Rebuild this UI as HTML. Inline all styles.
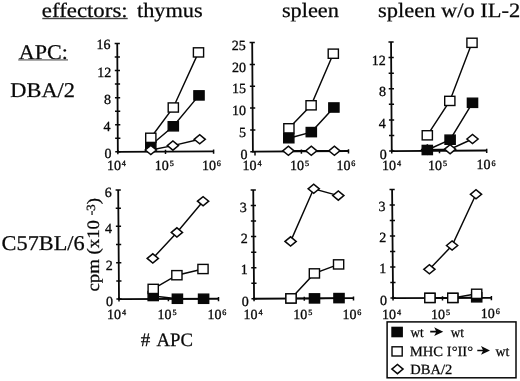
<!DOCTYPE html>
<html><head><meta charset="utf-8"><style>
html,body{margin:0;padding:0;background:#fff;}
body{width:520px;height:381px;overflow:hidden;}
svg{display:block;will-change:transform;}
text{font-family:"Liberation Serif", serif;fill:#080808;stroke:#080808;stroke-width:0.25px;text-rendering:geometricPrecision;}
text.s{stroke-width:0.3px;}
text.l{stroke-width:0.25px;}
</style></head><body>
<svg width="520" height="381" viewBox="0 0 520 381">
<rect width="520" height="381" fill="#fff"/>
<path d="M117.25,43.5 L117.85,151.8 L213.6,151.4" fill="none" stroke="#080808" stroke-width="1.8" stroke-linejoin="miter"/>
<path d="M115.25,151.8h5.2M115.17,138.26h5.2M115.1,124.73h5.2M115.03,111.19h5.2M114.95,97.65h5.2M114.88,84.11h5.2M114.8,70.58h5.2M114.73,57.04h5.2M114.65,43.5h5.2M117.85,150v4.2M165.5,149.8v4.2M213.6,149.6v4.2" fill="none" stroke="#080808" stroke-width="1.5"/>
<text class="s" x="104.5" y="158.32" font-size="14">0</text>
<text class="s" x="103.6" y="130.8" font-size="14">4</text>
<text class="s" x="104.1" y="103.73" font-size="14">8</text>
<text class="s" x="97.35" y="76.8" font-size="14">12</text>
<text class="s" x="96.55" y="49.48" font-size="14">16</text>
<text class="s" x="106.9" y="170.12" font-size="14">10<tspan font-size="8.2" dx="0.9" dy="-3.9">4</tspan></text>
<text class="s" x="154.8" y="169.82" font-size="14">10<tspan font-size="8.2" dx="0.9" dy="-3.9">5</tspan></text>
<text class="s" x="201.9" y="169.72" font-size="14">10<tspan font-size="8.2" dx="0.9" dy="-3.9">6</tspan></text>
<polyline points="150.8,145.3 173.3,126.3 199,95.4" fill="none" stroke="#080808" stroke-width="1.45"/>
<polyline points="150.8,137.8 173.3,107.5 198.5,52.4" fill="none" stroke="#080808" stroke-width="1.45"/>
<polyline points="150.8,150 172.9,145.6 199.7,139.3" fill="none" stroke="#080808" stroke-width="1.45"/>
<rect x="145.7" y="140.7" width="10.2" height="9.2" fill="#080808" stroke="#080808" stroke-width="1.4"/>
<rect x="168.2" y="121.7" width="10.2" height="9.2" fill="#080808" stroke="#080808" stroke-width="1.4"/>
<rect x="193.9" y="90.8" width="10.2" height="9.2" fill="#080808" stroke="#080808" stroke-width="1.4"/>
<rect x="145.7" y="133.2" width="10.2" height="9.2" fill="#fff" stroke="#080808" stroke-width="1.4"/>
<rect x="168.2" y="102.9" width="10.2" height="9.2" fill="#fff" stroke="#080808" stroke-width="1.4"/>
<rect x="193.4" y="47.8" width="10.2" height="9.2" fill="#fff" stroke="#080808" stroke-width="1.4"/>
<polygon points="145.2,150 150.8,145.4 156.4,150 150.8,154.6" fill="#fff" stroke="#080808" stroke-width="1.5" stroke-linejoin="miter"/>
<polygon points="167.3,145.6 172.9,141 178.5,145.6 172.9,150.2" fill="#fff" stroke="#080808" stroke-width="1.5" stroke-linejoin="miter"/>
<polygon points="194.1,139.3 199.7,134.7 205.3,139.3 199.7,143.9" fill="#fff" stroke="#080808" stroke-width="1.5" stroke-linejoin="miter"/>
<path d="M252.2,42.6 L252.9,151.7 L348.5,151" fill="none" stroke="#080808" stroke-width="1.8" stroke-linejoin="miter"/>
<path d="M250.3,151.7h5.2M250.16,129.88h5.2M250.02,108.06h5.2M249.88,86.24h5.2M249.74,64.42h5.2M249.6,42.6h5.2M255,151.18v4.3M301.4,149.54v4.2M348.5,149.2v4.2" fill="none" stroke="#080808" stroke-width="1.5"/>
<text class="s" x="240.4" y="158.72" font-size="14">0</text>
<text class="s" x="239.1" y="136.88" font-size="14">5</text>
<text class="s" x="232.1" y="115.18" font-size="14">10</text>
<text class="s" x="232.1" y="93.24" font-size="14">15</text>
<text class="s" x="232.1" y="71.54" font-size="14">20</text>
<text class="s" x="231.8" y="49.77" font-size="14">25</text>
<text class="s" x="242.6" y="170.03" font-size="14">10<tspan font-size="8.2" dx="0.9" dy="-3.9">4</tspan></text>
<text class="s" x="290.1" y="169.72" font-size="14">10<tspan font-size="8.2" dx="0.9" dy="-3.9">5</tspan></text>
<text class="s" x="336.4" y="169.72" font-size="14">10<tspan font-size="8.2" dx="0.9" dy="-3.9">6</tspan></text>
<polyline points="288.4,150.8 311.3,150.8 334.4,150.8" fill="none" stroke="#080808" stroke-width="1.45"/>
<polyline points="288.8,138.2 311.3,132.1 333.9,107.5" fill="none" stroke="#080808" stroke-width="1.45"/>
<polyline points="288.9,128.3 311.1,105.3 333.3,53.7" fill="none" stroke="#080808" stroke-width="1.45"/>
<polygon points="282.8,150.8 288.4,146.2 294,150.8 288.4,155.4" fill="#fff" stroke="#080808" stroke-width="1.5" stroke-linejoin="miter"/>
<polygon points="305.7,150.8 311.3,146.2 316.9,150.8 311.3,155.4" fill="#fff" stroke="#080808" stroke-width="1.5" stroke-linejoin="miter"/>
<polygon points="328.8,150.8 334.4,146.2 340,150.8 334.4,155.4" fill="#fff" stroke="#080808" stroke-width="1.5" stroke-linejoin="miter"/>
<rect x="283.7" y="133.6" width="10.2" height="9.2" fill="#080808" stroke="#080808" stroke-width="1.4"/>
<rect x="306.2" y="127.5" width="10.2" height="9.2" fill="#080808" stroke="#080808" stroke-width="1.4"/>
<rect x="328.8" y="102.9" width="10.2" height="9.2" fill="#080808" stroke="#080808" stroke-width="1.4"/>
<rect x="283.8" y="123.7" width="10.2" height="9.2" fill="#fff" stroke="#080808" stroke-width="1.4"/>
<rect x="306" y="100.7" width="10.2" height="9.2" fill="#fff" stroke="#080808" stroke-width="1.4"/>
<rect x="328.2" y="49.1" width="10.2" height="9.2" fill="#fff" stroke="#080808" stroke-width="1.4"/>
<path d="M391.05,42 L391.75,151.1 L486.7,150.5" fill="none" stroke="#080808" stroke-width="1.8" stroke-linejoin="miter"/>
<path d="M389.15,151.1h5.2M389.05,135.51h5.2M388.95,119.93h5.2M388.85,104.34h5.2M388.75,88.76h5.2M388.65,73.17h5.2M388.55,57.59h5.2M388.45,42h5.2M391.75,149.3v4.2M439.5,149v4.2M486.7,148.7v4.2" fill="none" stroke="#080808" stroke-width="1.5"/>
<text class="s" x="379.7" y="158.93" font-size="14">0</text>
<text class="s" x="378.8" y="127.97" font-size="14">4</text>
<text class="s" x="379.1" y="96.18" font-size="14">8</text>
<text class="s" x="371.75" y="65.15" font-size="14">12</text>
<text class="s" x="382" y="169.53" font-size="14">10<tspan font-size="8.2" dx="0.9" dy="-3.9">4</tspan></text>
<text class="s" x="428.1" y="169.62" font-size="14">10<tspan font-size="8.2" dx="0.9" dy="-3.9">5</tspan></text>
<text class="s" x="476.5" y="169.43" font-size="14">10<tspan font-size="8.2" dx="0.9" dy="-3.9">6</tspan></text>
<polyline points="427.3,149.6 450.1,149.2 472.5,139" fill="none" stroke="#080808" stroke-width="1.45"/>
<polyline points="427.3,150 450.1,139.7 472.5,102.8" fill="none" stroke="#080808" stroke-width="1.45"/>
<polyline points="427.3,135.3 449.8,100.9 472,42.8" fill="none" stroke="#080808" stroke-width="1.45"/>
<polygon points="421.7,149.6 427.3,145 432.9,149.6 427.3,154.2" fill="#fff" stroke="#080808" stroke-width="1.5" stroke-linejoin="miter"/>
<polygon points="444.5,149.2 450.1,144.6 455.7,149.2 450.1,153.8" fill="#fff" stroke="#080808" stroke-width="1.5" stroke-linejoin="miter"/>
<polygon points="466.9,139 472.5,134.4 478.1,139 472.5,143.6" fill="#fff" stroke="#080808" stroke-width="1.5" stroke-linejoin="miter"/>
<rect x="422.2" y="145.4" width="10.2" height="9.2" fill="#080808" stroke="#080808" stroke-width="1.4"/>
<rect x="445" y="135.1" width="10.2" height="9.2" fill="#080808" stroke="#080808" stroke-width="1.4"/>
<rect x="467.4" y="98.2" width="10.2" height="9.2" fill="#080808" stroke="#080808" stroke-width="1.4"/>
<rect x="422.2" y="130.7" width="10.2" height="9.2" fill="#fff" stroke="#080808" stroke-width="1.4"/>
<rect x="444.7" y="96.3" width="10.2" height="9.2" fill="#fff" stroke="#080808" stroke-width="1.4"/>
<rect x="466.9" y="38.2" width="10.2" height="9.2" fill="#fff" stroke="#080808" stroke-width="1.4"/>
<path d="M118.2,190 L119,299.1 L218.5,298.75" fill="none" stroke="#080808" stroke-width="1.8" stroke-linejoin="miter"/>
<path d="M116.4,299.1h5.2M116.27,280.92h5.2M116.13,262.73h5.2M116,244.55h5.2M115.87,226.37h5.2M115.73,208.18h5.2M115.6,190h5.2M119,297.3v4.2M168.4,297.13v4.2M218.5,296.95v4.2" fill="none" stroke="#080808" stroke-width="1.5"/>
<text class="s" x="106.1" y="305.82" font-size="14">0</text>
<text class="s" x="105.75" y="269.95" font-size="14">2</text>
<text class="s" x="104.9" y="233.43" font-size="14">4</text>
<text class="s" x="104.65" y="197.07" font-size="14">6</text>
<text class="s" x="107.1" y="319.02" font-size="14">10<tspan font-size="8.2" dx="0.9" dy="-3.9">4</tspan></text>
<text class="s" x="157.6" y="318.88" font-size="14">10<tspan font-size="8.2" dx="0.9" dy="-3.9">5</tspan></text>
<text class="s" x="207.4" y="318.88" font-size="14">10<tspan font-size="8.2" dx="0.9" dy="-3.9">6</tspan></text>
<polyline points="153.2,296 177.4,298.75 203.6,298.75" fill="none" stroke="#080808" stroke-width="1.45"/>
<polyline points="153.2,288.9 176.9,275.2 203,269" fill="none" stroke="#080808" stroke-width="1.45"/>
<polyline points="152.8,258.4 176.9,232.4 203.1,201.2" fill="none" stroke="#080808" stroke-width="1.45"/>
<rect x="148.1" y="291.4" width="10.2" height="9.2" fill="#080808" stroke="#080808" stroke-width="1.4"/>
<rect x="172.3" y="294.15" width="10.2" height="9.2" fill="#080808" stroke="#080808" stroke-width="1.4"/>
<rect x="198.5" y="294.15" width="10.2" height="9.2" fill="#080808" stroke="#080808" stroke-width="1.4"/>
<rect x="148.1" y="284.3" width="10.2" height="9.2" fill="#fff" stroke="#080808" stroke-width="1.4"/>
<rect x="171.8" y="270.6" width="10.2" height="9.2" fill="#fff" stroke="#080808" stroke-width="1.4"/>
<rect x="197.9" y="264.4" width="10.2" height="9.2" fill="#fff" stroke="#080808" stroke-width="1.4"/>
<polygon points="147.2,258.4 152.8,253.8 158.4,258.4 152.8,263" fill="#fff" stroke="#080808" stroke-width="1.5" stroke-linejoin="miter"/>
<polygon points="171.3,232.4 176.9,227.8 182.5,232.4 176.9,237" fill="#fff" stroke="#080808" stroke-width="1.5" stroke-linejoin="miter"/>
<polygon points="197.5,201.2 203.1,196.6 208.7,201.2 203.1,205.8" fill="#fff" stroke="#080808" stroke-width="1.5" stroke-linejoin="miter"/>
<path d="M253.25,190 L254.05,298.75 L353.5,298.2" fill="none" stroke="#080808" stroke-width="1.8" stroke-linejoin="miter"/>
<path d="M251.45,298.75h5.2M251.34,283.21h5.2M251.22,267.68h5.2M251.11,252.14h5.2M250.99,236.61h5.2M250.88,221.07h5.2M250.76,205.54h5.2M250.65,190h5.2M254.05,296.95v4.2M304.3,296.67v4.2M353.5,296.4v4.2" fill="none" stroke="#080808" stroke-width="1.5"/>
<text class="s" x="241.7" y="305.82" font-size="14">0</text>
<text class="s" x="240.75" y="274.4" font-size="14">1</text>
<text class="s" x="240.75" y="243.46" font-size="14">2</text>
<text class="s" x="239.8" y="211.78" font-size="14">3</text>
<text class="s" x="243.5" y="318.68" font-size="14">10<tspan font-size="8.2" dx="0.9" dy="-3.9">4</tspan></text>
<text class="s" x="293.3" y="318.88" font-size="14">10<tspan font-size="8.2" dx="0.9" dy="-3.9">5</tspan></text>
<text class="s" x="342.4" y="318.88" font-size="14">10<tspan font-size="8.2" dx="0.9" dy="-3.9">6</tspan></text>
<polyline points="291,298.4 314.5,298.4 339,298.1" fill="none" stroke="#080808" stroke-width="1.45"/>
<polyline points="291,298.4 314.4,273.4 338.6,264.4" fill="none" stroke="#080808" stroke-width="1.45"/>
<polyline points="290.6,241.4 313.7,188.8 338.3,195.6" fill="none" stroke="#080808" stroke-width="1.45"/>
<rect x="285.9" y="293.8" width="10.2" height="9.2" fill="#080808" stroke="#080808" stroke-width="1.4"/>
<rect x="309.4" y="293.8" width="10.2" height="9.2" fill="#080808" stroke="#080808" stroke-width="1.4"/>
<rect x="333.9" y="293.5" width="10.2" height="9.2" fill="#080808" stroke="#080808" stroke-width="1.4"/>
<rect x="285.9" y="293.8" width="10.2" height="9.2" fill="#fff" stroke="#080808" stroke-width="1.4"/>
<rect x="309.3" y="268.8" width="10.2" height="9.2" fill="#fff" stroke="#080808" stroke-width="1.4"/>
<rect x="333.5" y="259.8" width="10.2" height="9.2" fill="#fff" stroke="#080808" stroke-width="1.4"/>
<polygon points="285,241.4 290.6,236.8 296.2,241.4 290.6,246" fill="#fff" stroke="#080808" stroke-width="1.5" stroke-linejoin="miter"/>
<polygon points="308.1,188.8 313.7,184.2 319.3,188.8 313.7,193.4" fill="#fff" stroke="#080808" stroke-width="1.5" stroke-linejoin="miter"/>
<polygon points="332.7,195.6 338.3,191 343.9,195.6 338.3,200.2" fill="#fff" stroke="#080808" stroke-width="1.5" stroke-linejoin="miter"/>
<path d="M392.1,189.4 L393.05,298.1 L491.4,297.9" fill="none" stroke="#080808" stroke-width="1.8" stroke-linejoin="miter"/>
<path d="M390.45,298.1h5.2M390.31,282.57h5.2M390.18,267.04h5.2M390.04,251.51h5.2M389.91,235.99h5.2M389.77,220.46h5.2M389.64,204.93h5.2M389.5,189.4h5.2M393.05,296.3v4.2M442.5,296.2v4.2M491.4,296.1v4.2" fill="none" stroke="#080808" stroke-width="1.5"/>
<text class="s" x="380" y="304.52" font-size="14">0</text>
<text class="s" x="379.25" y="273.37" font-size="14">1</text>
<text class="s" x="379.25" y="242.44" font-size="14">2</text>
<text class="s" x="378.4" y="211.38" font-size="14">3</text>
<text class="s" x="382" y="318.73" font-size="14">10<tspan font-size="8.2" dx="0.9" dy="-3.9">4</tspan></text>
<text class="s" x="431.1" y="318.73" font-size="14">10<tspan font-size="8.2" dx="0.9" dy="-3.9">5</tspan></text>
<text class="s" x="480.8" y="318.23" font-size="14">10<tspan font-size="8.2" dx="0.9" dy="-3.9">6</tspan></text>
<polyline points="429.9,297.9 452.8,297.9 476.7,297.3" fill="none" stroke="#080808" stroke-width="1.45"/>
<polyline points="429.9,297.9 452.8,297.9 476.7,293.8" fill="none" stroke="#080808" stroke-width="1.45"/>
<polyline points="429.4,269.3 452.1,245.5 476,194.3" fill="none" stroke="#080808" stroke-width="1.45"/>
<rect x="424.8" y="293.3" width="10.2" height="9.2" fill="#080808" stroke="#080808" stroke-width="1.4"/>
<rect x="447.7" y="293.3" width="10.2" height="9.2" fill="#080808" stroke="#080808" stroke-width="1.4"/>
<rect x="471.6" y="292.7" width="10.2" height="9.2" fill="#080808" stroke="#080808" stroke-width="1.4"/>
<rect x="424.8" y="293.3" width="10.2" height="9.2" fill="#fff" stroke="#080808" stroke-width="1.4"/>
<rect x="447.7" y="293.3" width="10.2" height="9.2" fill="#fff" stroke="#080808" stroke-width="1.4"/>
<rect x="471.6" y="289.2" width="10.2" height="9.2" fill="#fff" stroke="#080808" stroke-width="1.4"/>
<polygon points="423.8,269.3 429.4,264.7 435,269.3 429.4,273.9" fill="#fff" stroke="#080808" stroke-width="1.5" stroke-linejoin="miter"/>
<polygon points="446.5,245.5 452.1,240.9 457.7,245.5 452.1,250.1" fill="#fff" stroke="#080808" stroke-width="1.5" stroke-linejoin="miter"/>
<polygon points="470.4,194.3 476,189.7 481.6,194.3 476,198.9" fill="#fff" stroke="#080808" stroke-width="1.5" stroke-linejoin="miter"/>
<text transform="translate(41.86,17.00) scale(1.1192,1)" font-size="20.4">effectors:</text>
<text transform="translate(137.00,17.20) scale(1.0941,1)" font-size="20.4">thymus</text>
<text transform="translate(281.88,17.00) scale(1.0946,1)" font-size="20.4">spleen</text>
<text transform="translate(377.97,16.80) scale(1.1020,1)" font-size="20.4">spleen w/o IL-2</text>
<text transform="translate(18.70,58.70) scale(1.0511,1)" font-size="21">APC:</text>
<text transform="translate(10.27,97.10) scale(1.0667,1)" font-size="21">DBA/2</text>
<text transform="translate(1.60,249.70) scale(1.0623,1)" font-size="21">C57BL/6</text>
<text transform="translate(140.85,345.90) scale(1.0000,1)" font-size="19">#</text>
<text transform="translate(156.50,345.50) scale(0.9861,1)" font-size="19">APC</text>
<rect x="42.3" y="17.8" width="85.4" height="1.4" fill="#444"/>
<rect x="18.2" y="59.2" width="49.8" height="1.4" fill="#777"/>
<text transform="translate(99.00,291.54) rotate(-90) scale(1.0733,1)" font-size="17.5">cpm (x10 <tspan font-size="12.5" dy="-3.8">-3</tspan><tspan dy="3.8">)</tspan></text>
<rect x="387.1" y="321.9" width="128.9" height="55.9" fill="#fff" stroke="#080808" stroke-width="1.5"/>
<rect x="392" y="327.4" width="10.2" height="9.2" fill="#080808" stroke="#080808" stroke-width="1.4"/>
<rect x="392" y="346.8" width="10.2" height="9.2" fill="#fff" stroke="#080808" stroke-width="1.4"/>
<polygon points="391.85,369.1 397.45,364.5 403.05,369.1 397.45,373.7" fill="#fff" stroke="#080808" stroke-width="1.5" stroke-linejoin="miter"/>
<path d="M430.2,330.85h7v1.7h-7z M434.2,327.2 L443.2,331.7 L434.2,335.9 L436.4,331.7 z" fill="#080808"/>
<path d="M477.3,349.65h7v1.7h-7z M481,346 L490,350.5 L481,354.7 L483.2,350.5 z" fill="#080808"/>
<text class="l" transform="translate(410.40,336.80) scale(0.9404,1)" font-size="14.1">wt</text>
<text class="l" transform="translate(450.80,336.80) scale(0.9404,1)" font-size="14.1">wt</text>
<text class="l" transform="translate(409.74,356.40) scale(1.0390,1)" font-size="14.1">MHC I°II°</text>
<text class="l" transform="translate(495.50,355.90) scale(0.9895,1)" font-size="14.1">wt</text>
<text class="l" transform="translate(410.34,374.10) scale(1.0314,1)" font-size="14.1">DBA/2</text>
</svg>
</body></html>
